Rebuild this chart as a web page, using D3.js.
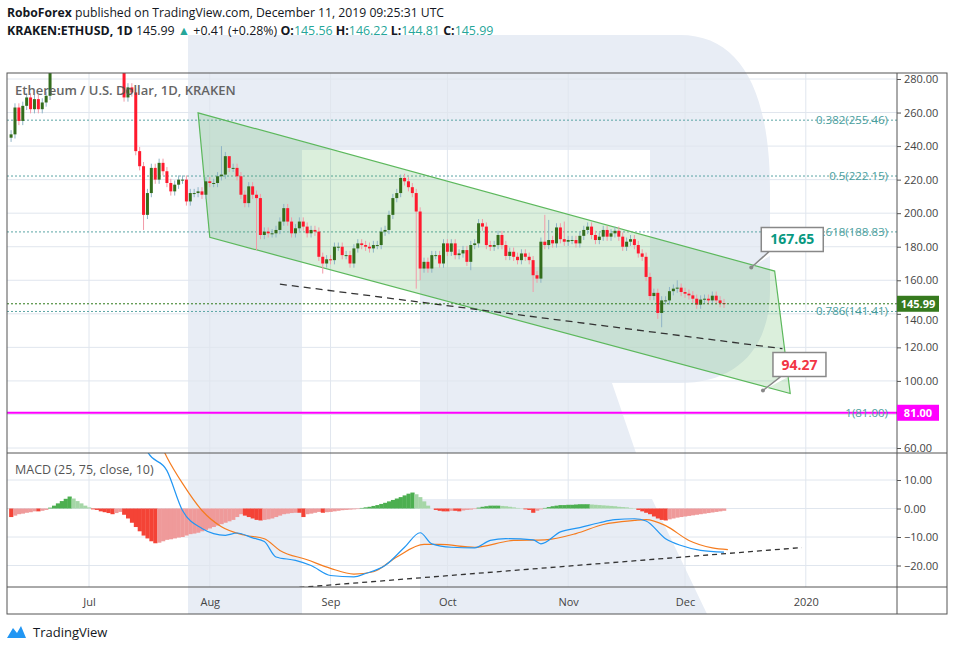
<!DOCTYPE html>
<html><head><meta charset="utf-8">
<script src="https://cdn.jsdelivr.net/npm/d3@7/dist/d3.min.js"></script>
<style>body{margin:0;background:#fff}svg{display:block;font-family:"Open Sans",sans-serif}</style>
</head><body><svg id="c" width="954" height="651"></svg>
<script>
// ---------- DATA ----------
const lastDate = "2019-12-11";
const closes = [247,263,255,264,269,262,268,262,266,270,290,310,
 308,315,320,330,300,310,320,292,293,290,302,288,290,292,306,312,305,
 269,275,272,237,228,199,212,227,220,230,225,218,213,217,220,220,207,212,212,213,211,219,218,218,222,223,234,227,227,222,211,206,216,211,209,187,189,188,188,190,195,203,195,188,191,195,192,188,190,189,174,170,
 172.5,172,180,180,175,175,170,179,182,181,
 180,179,181,181,189,190,199,209,212,221,
 219,215.5,212,201,167,171,167,175,175,170,
 182,177,182,175,176,178,171,181,182,194,
 192,181,180,181,187,181,174.5,177,174,172,
 176,174,172,163,161,183,181,184,182,191.5,
 184.5,183,184,184,182,186.5,190,192,187,184,
 186,190,186,188,189.5,186,180,183,184.5,181,
 176,174,162,150.6,152.5,140.5,148,148,153.5,155,
 155.6,153,152,151,149,145.5,148.5,149,148,150.8,
 148,146.4,145.99];
const firstOpen = 245;
// notable wick extremes: [candle index, high, low]
const wicks = [[34,null,190],[54,240,null],[56,232,null],[63,null,178],[80,null,164],[100,223,null],[104,null,155],[105,null,160],[118,null,166],[134,null,153],[137,199,null],[138,196,null],[142,195,null],[166,null,137],[167,null,132],[171,160,null]];
const priceTicks = [60,80,100,120,140,160,180,200,220,240,260,280];
const fibs = [["0.382",255.46],["0.5",222.15],["0.618",188.83],["0.786",141.41]];
const fibOne = 81.00;
const lastPrice = 145.99;
// channel corners [days offset from last candle, price]
const channel = [[-135,259.8],[-132,185.6],[17,92.5],[13,165.5]];
const dashLine = [[-114,157.7],[15,119.2]];
const callouts = [{d:7,p:167.65,label:"167.65",color:"#089981",bx:10,by:-40},{d:10,p:94.27,label:"94.27",color:"#f23645",bx:10,by:-38}];
const histVals = [-3,-2.5,-2,-1.8,-1.5,-1.3,-1,-1,-0.8,-0.5,0.3,
 1,1.8,2.6,3.4,4.2, 3.5,2.6,1.8,1,0.4,-0.3,
 -0.5,-1,-1.3,-1.6,-2,-1.6,-1.2,-2.2,
 -3.5,-5,-6.5,-8,-9.5,-10.5,-11.5,-12.2,
 -12,-11.5,-11,-10.8,-10.5,-10.2,-10,-9.5,-9,-8.8,-8.5,-8,
 -7.5,-7,-6.5,-6,-5.5,-5,-4.5,-4,-3,-2,
 -2.5,-3,-3.5,-4,-4.2,-4,-3.8,-3.5,-3,-2.5,-2,
 -1.8,-1.6,-1.5,-1.5,-3,-2,-1.8,-1.5,-1.2,
 -1.5,-1.3,-1.2,-1,-0.8,-0.6,-0.5,-0.4,-0.3,-0.2,0.2,
 0.4,0.6,0.9,1.2,1.6,2,2.5,3,3.5,4,4.6,5.2,5.6,
 5,4,2.5,1,0,
 -0.5,-0.8,-1,-1,-0.8,-0.8,-1,-0.7,-0.5,-0.4,-0.2,0.3,0.6,0.8,
 1,1,1,0.9,0.8,0.6,0.4,0.2,0.1,
 -0.3,-0.5,-1.5,-0.8,-0.3,0.2,
 0.5,0.8,1,1.2,1.2,1.3,1.3,1.4,1.5,1.5,1.5,1.4,1.3,1.2,1.1,1,0.9,0.8,0.6,0.5,0.4,0.2,0.1,
 -0.5,-1,-1.5,-2,-2.8,-3.5,-4,
 -4.2,-3.8,-3.5,-3.2,-3,-2.8,-2.6,-2.4,-2.2,-2,-1.8,-1.6,-1.4,-1.2,-1,-0.8];
// [candle index, value]
const macdLine = [[33,30],[35,20],[40,13.3],[44,-0.7],[49,-7],[52,-8.8],[55,-9.4],[58,-8.6],[62,-10.3],[65,-11.6],[68,-17],[73,-18.2],[77,-20],[82,-23.5],[88,-24],[91,-22.8],[96,-20],[101,-13.6],[105,-8.5],[108,-12.4],[113,-13.6],[119,-13.8],[123,-11.2],[127,-10.6],[134,-11],[136,-12.4],[141,-8.2],[146,-6.7],[151,-5],[155,-3.9],[160,-3.6],[163,-4.4],[168,-10.6],[172,-13],[177,-14.7],[183,-15.3]];
const signalLine = [[36,30],[40,18],[44,8.8],[49,-0.7],[54,-6.4],[60,-9.4],[65,-10.6],[69,-14.7],[76,-18],[82,-21],[88,-23],[93,-22.2],[99,-17],[106,-12.6],[110,-12.6],[119,-13.6],[129,-11.2],[137,-11],[145,-8.8],[152,-5.6],[160,-4.2],[163,-3.9],[168,-6],[174,-11.2],[180,-13.8],[184,-14.4]];
const macdDash = [[74,-27.7],[203,-13.7]];
const macdTicks = [-20,-10,0,10];
const monthTicks = [["2019-07-01","Jul"],["2019-08-01","Aug"],["2019-09-01","Sep"],["2019-10-01","Oct"],["2019-11-01","Nov"],["2019-12-01","Dec"],["2020-01-01","2020"]];

// ---------- LAYOUT ----------
const svg = d3.select("#c");
const L=7, R=897, PT=73, PB=453, MB=587, TB=614, RE=947;
const n = closes.length;
const parse = d3.utcParse("%Y-%m-%d");
const end = parse(lastDate);
const x = d3.scaleUtc().domain([parse("2019-07-01"), end]).range([89, 724]);
const step = x(d3.utcDay.offset(end,1))-x(end);
const xi = i => x(d3.utcDay.offset(end, i-(n-1)));
const y = d3.scaleLinear().domain([60,280]).range([448,79]);
const ym = d3.scaleLinear().domain([-20,10]).range([565.5,480]);

// watermark R
const wm = "#e8edf5";
const g0 = svg.append("g").attr("fill",wm);
g0.append("rect").attr("x",188).attr("y",35).attr("width",114).attr("height",TB-35);
g0.append("path").attr("d","M302,35 H680 C740,35 770,90 770,190 V290 C770,350 735,383 680,383 H420 V267 H650 V150 H302 Z");
g0.append("path").attr("d","M420,383 H612 L636,453 H420 Z");
g0.append("path").attr("d","M420,499 H652 L707,614 H420 Z");

svg.append("clipPath").attr("id","cp").append("rect").attr("x",L).attr("y",PT).attr("width",R-L).attr("height",PB-PT);
svg.append("clipPath").attr("id","cm").append("rect").attr("x",L).attr("y",PB).attr("width",R-L).attr("height",MB-PB);

// grid
const grid = svg.append("g").attr("stroke","#e0e6ee").attr("stroke-width",1);
priceTicks.forEach(t=>grid.append("line").attr("x1",L).attr("x2",R).attr("y1",y(t)).attr("y2",y(t)));
macdTicks.forEach(t=>grid.append("line").attr("x1",L).attr("x2",R).attr("y1",ym(t)).attr("y2",ym(t)));
monthTicks.forEach(([d])=>grid.append("line").attr("x1",x(parse(d))).attr("x2",x(parse(d))).attr("y1",PT).attr("y2",MB));

const gp = svg.append("g").attr("clip-path","url(#cp)");
fibs.forEach(([k,v])=>gp.append("line").attr("x1",L).attr("x2",R).attr("y1",y(v)).attr("y2",y(v)).attr("stroke","#5aa5a5").attr("stroke-dasharray","2,2"));
const cpts = channel.map(([d,p])=>[xi(n-1+d),y(p)]);
gp.append("path").attr("d",d3.line()(cpts)+"Z").attr("fill","rgba(76,175,80,0.2)").attr("stroke","#5cb85c").attr("stroke-width",1.2);
gp.append("path").attr("d",d3.line()(dashLine.map(([d,p])=>[xi(n-1+d),y(p)]))).attr("stroke","#333").attr("stroke-width",1.3).attr("stroke-dasharray","7,5");
// candles
const wmap = {}; wicks.forEach(([k,h,l])=>wmap[k]={h,l});
closes.forEach((c,i)=>{
  const o = i===0?firstOpen:closes[i-1];
  const up = c>=o;
  let hi = Math.max(o,c)+2.5, lo = Math.min(o,c)-2.5;
  if(wmap[i]){ if(wmap[i].h!=null) hi=wmap[i].h; if(wmap[i].l!=null) lo=wmap[i].l; }
  const cx = xi(i);
  gp.append("line").attr("x1",cx).attr("x2",cx).attr("y1",y(hi)).attr("y2",y(lo)).attr("stroke",up?"#8fb4c6":"#f29aa8");
  const top=y(Math.max(o,c)), bot=y(Math.min(o,c));
  gp.append("rect").attr("x",cx-1.5).attr("width",3).attr("y",top).attr("height",Math.max(1,bot-top)).attr("fill",up?"#336d1c":"#ff1a2e");
});
gp.append("line").attr("x1",L).attr("x2",R).attr("y1",y(lastPrice)).attr("y2",y(lastPrice)).attr("stroke","#2f7a1a").attr("stroke-dasharray","2,2");
gp.append("line").attr("x1",L).attr("x2",R).attr("y1",y(fibOne)).attr("y2",y(fibOne)).attr("stroke","#ff00ff").attr("stroke-width",2);
fibs.concat([["1",fibOne]]).forEach(([k,v])=>svg.append("text").attr("x",888).attr("y",y(v)+4).attr("text-anchor","end").attr("font-size",11.5).attr("fill","#4a9e9e").text(`${k}(${v.toFixed(2)})`));
callouts.forEach(c=>{
  const px=xi(n-1+c.d), py=y(c.p);
  const bx=px+c.bx, by=py+c.by, bw=c.label.length*9+8, bh=24;
  svg.append("path").attr("d",`M${px},${py} L${bx+8},${by+bh} H${bx+bw} V${by} H${bx} V${by+bh} H${bx+16}`).attr("fill","#fff").attr("stroke","#888").attr("stroke-width",1.5);
  svg.append("circle").attr("cx",px).attr("cy",py).attr("r",2).attr("fill","#888");
  svg.append("text").attr("x",bx+bw/2).attr("y",by+17).attr("text-anchor","middle").attr("font-size",14).attr("font-weight","bold").attr("fill",c.color).text(c.label);
});

// MACD pane
const gm = svg.append("g").attr("clip-path","url(#cm)");
histVals.forEach((v,i)=>{
  const prev = i?histVals[i-1]:v;
  let col = v>=0 ? (v>=prev?"#4caf50":"#a5d6a7") : (v<=prev?"#f44336":"#ef9a9a");
  const cx=xi(i);
  gm.append("rect").attr("x",cx-step/2).attr("width",step+0.3).attr("y",Math.min(ym(0),ym(v))).attr("height",Math.abs(ym(v)-ym(0))).attr("fill",col);
});
const ml = d3.line().x(d=>xi(d[0])).y(d=>ym(d[1])).curve(d3.curveMonotoneX);
gm.append("path").attr("d",ml(signalLine)).attr("fill","none").attr("stroke","#f57c1f").attr("stroke-width",1.2);
gm.append("path").attr("d",ml(macdLine)).attr("fill","none").attr("stroke","#2196f3").attr("stroke-width",1.2);
gm.append("path").attr("d",d3.line().x(d=>xi(d[0])).y(d=>ym(d[1]))(macdDash)).attr("stroke","#333").attr("stroke-width",1.3).attr("stroke-dasharray","5,4");

// borders
const b = svg.append("g").attr("stroke","#555").attr("fill","none");
b.append("rect").attr("x",L).attr("y",PT).attr("width",RE-L).attr("height",TB-PT);
b.append("line").attr("x1",R).attr("x2",R).attr("y1",PT).attr("y2",TB);
b.append("line").attr("x1",L).attr("x2",RE).attr("y1",PB).attr("y2",PB);
b.append("line").attr("x1",L).attr("x2",RE).attr("y1",MB).attr("y2",MB);

// axes (80.00 sits under the 81.00 tag, as in the reference)
const ya = svg.append("g").attr("transform",`translate(${R},0)`).call(d3.axisRight(y).tickValues(priceTicks).tickFormat(d=>d===80?"":d3.format(".2f")(d)).tickSize(4));
const ma = svg.append("g").attr("transform",`translate(${R},0)`).call(d3.axisRight(ym).tickValues(macdTicks).tickFormat(d=>d===0?"0.00":d3.format(".2f")(d).replace("-","\u2212")).tickSize(4));
const xa = svg.append("g").attr("transform",`translate(0,${MB})`).call(d3.axisBottom(x).tickValues(monthTicks.map(m=>parse(m[0]))).tickFormat((d,i)=>monthTicks[i][1]).tickSize(0).tickPadding(11));
[ya,ma,xa].forEach(a=>{a.select(".domain").remove();a.selectAll("line").attr("stroke","#555");a.selectAll("text").attr("fill","#444").attr("font-size",11).attr("font-family","Open Sans, sans-serif");});
ya.selectAll(".tick").filter(d=>d===140).select("text").attr("dy","0.9em");

function tag(v,bg){
  svg.append("rect").attr("x",R).attr("y",y(v)-8).attr("width",42).attr("height",16).attr("fill",bg);
  svg.append("text").attr("x",R+21).attr("y",y(v)+4).attr("text-anchor","middle").attr("fill","#fff").attr("font-size",11).attr("font-weight","bold").text(v.toFixed(2));
}
tag(lastPrice,"#367a1e"); tag(fibOne,"#ff00ff");

svg.append("text").attr("x",15).attr("y",95).attr("font-size",13).attr("font-weight","600").attr("fill","#555").attr("opacity",0.9).text("Ethereum / U.S. Dollar, 1D, KRAKEN");
svg.append("text").attr("x",15).attr("y",474).attr("font-size",12.5).attr("fill","#555").text("MACD (25, 75, close, 10)");
const h1 = svg.append("text").attr("x",7).attr("y",17).attr("font-size",12.2).attr("fill","#131722");
h1.append("tspan").attr("font-weight","bold").text("RoboForex");
h1.append("tspan").text(" published on TradingView.com, December 11, 2019 09:25:31 UTC");
const h2 = svg.append("text").attr("x",7).attr("y",35).attr("font-size",12.4).attr("fill","#131722");
h2.append("tspan").attr("font-weight","bold").text("KRAKEN:ETHUSD, 1D");
h2.append("tspan").text("  145.99 ");
h2.append("tspan").attr("fill","#26a69a").text("\u25B2");
h2.append("tspan").text(" +0.41 (+0.28%) ");
[["O:","145.56"],["H:","146.22"],["L:","144.81"],["C:","145.99"]].forEach(([k,v])=>{
  h2.append("tspan").attr("font-weight","bold").text(k);
  h2.append("tspan").attr("fill","#26a69a").text(v+" ");
});
const lg = svg.append("g").attr("transform","translate(7,624)");
lg.append("path").attr("d","M0,14 L6,4 L10,9 L14,2 L19,14 Z").attr("fill","#2196f3");
svg.append("text").attr("x",33).attr("y",637).attr("font-size",13).attr("fill","#131722").text("TradingView");
</script></body></html>
